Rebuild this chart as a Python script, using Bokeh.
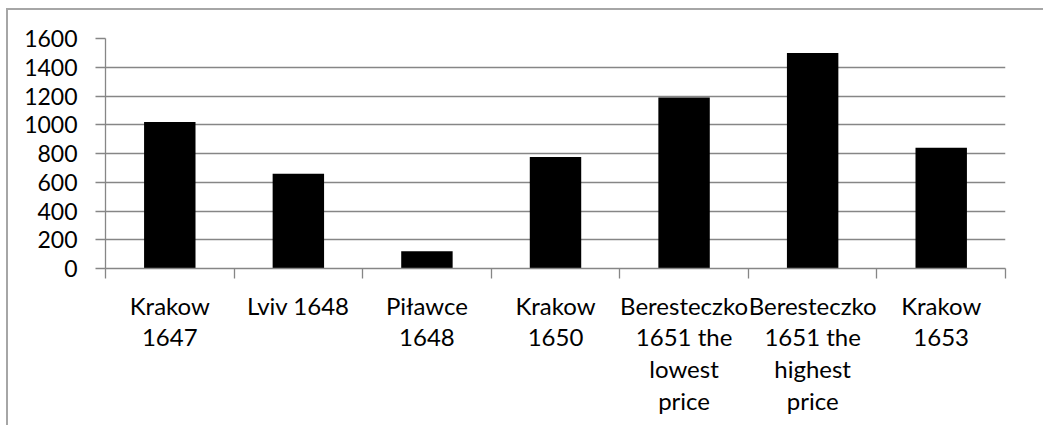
from bokeh.plotting import figure
from bokeh.models import Range1d, FixedTicker, ColumnDataSource
from bokeh.embed import file_html
from bokeh.resources import INLINE

categories = ["Krakow\n1647", "Lviv 1648", "Piławce\n1648", "Krakow\n1650",
              "Beresteczko\n1651 the\nlowest\nprice",
              "Beresteczko\n1651 the\nhighest\nprice", "Krakow\n1653"]
values = [1020, 660, 120, 775, 1190, 1500, 840]
y_ticks = [0, 200, 400, 600, 800, 1000, 1200, 1400, 1600]

FONT = "Lato"
GRAY = "#868686"

x_pos = [i + 0.5 for i in range(len(categories))]
src = ColumnDataSource(dict(x=x_pos, top=values))

p = figure(width=1037, height=417, output_backend="svg", toolbar_location=None,
           x_range=Range1d(0, len(categories)), y_range=Range1d(0, 1600),
           min_border_left=97, min_border_right=40, min_border_top=28,
           min_border_bottom=159)
p.outline_line_color = None
p.background_fill_color = "white"
p.border_fill_color = "white"
p.styles = {"border-left": "2px solid #a6a6a6", "border-top": "2px solid #a6a6a6",
            "margin-left": "6px", "margin-top": "8px"}

p.vbar(x="x", top="top", width=0.4, bottom=0, source=src,
       fill_color="black", line_color=None)

# y axis
p.yaxis.ticker = FixedTicker(ticks=y_ticks)
p.yaxis.axis_line_color = GRAY
p.yaxis.axis_line_width = 1.3
p.yaxis.major_tick_line_color = GRAY
p.yaxis.major_tick_line_width = 1.3
p.yaxis.major_tick_out = 10
p.yaxis.major_tick_in = 0
p.yaxis.minor_tick_line_color = None
p.yaxis.major_label_standoff = 18
p.yaxis.major_label_text_font = FONT
p.yaxis.major_label_text_font_size = "23px"
p.yaxis.major_label_text_color = "black"

# x axis: labels at centers, ticks at boundaries
p.xaxis.ticker = FixedTicker(ticks=x_pos, minor_ticks=list(range(len(categories) + 1)))
p.xaxis.major_label_overrides = {x: c for x, c in zip(x_pos, categories)}
p.xaxis.axis_line_color = GRAY
p.xaxis.axis_line_width = 1.3
p.xaxis.major_tick_line_color = None
p.xaxis.major_tick_out = 0
p.xaxis.major_tick_in = 0
p.xaxis.minor_tick_line_color = GRAY
p.xaxis.minor_tick_line_width = 1.3
p.xaxis.minor_tick_out = 10
p.xaxis.minor_tick_in = 0
p.xaxis.major_label_standoff = 12
p.xaxis.major_label_text_font = FONT
p.xaxis.major_label_text_font_size = "24px"
p.xaxis.major_label_text_color = "black"
p.xaxis.major_label_text_line_height = 1.1
p.xaxis.major_label_orientation = "horizontal"

p.xgrid.grid_line_color = None
p.ygrid.ticker = FixedTicker(ticks=y_ticks)
p.ygrid.grid_line_color = GRAY
p.ygrid.grid_line_width = 1.3

open("out.html", "w").write(file_html(p, INLINE))
